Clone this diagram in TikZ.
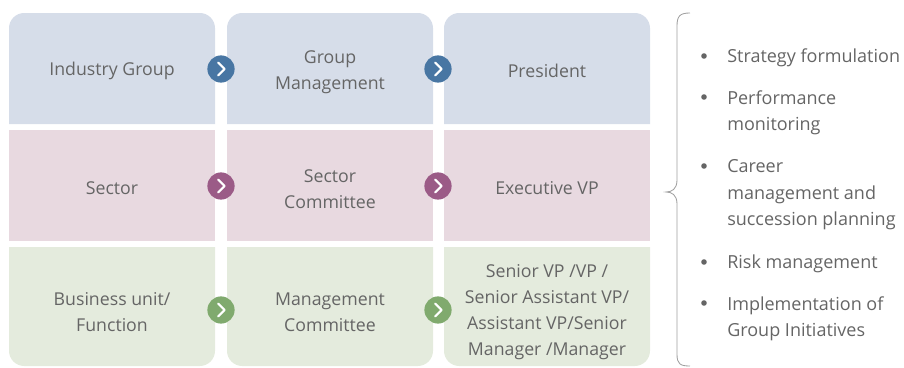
\documentclass[tikz,border=0pt]{standalone}
\usepackage{fontspec}
\setmainfont{Open Sans}
\usepackage{tikz}
\usetikzlibrary{positioning}

\definecolor{txtgrey}{HTML}{656565}
\definecolor{rowblue}{HTML}{D6DDE9}
\definecolor{rowplum}{HTML}{E8D9E0}
\definecolor{rowsage}{HTML}{E4EBDD}
\definecolor{dotblue}{HTML}{4876A3}
\definecolor{dotplum}{HTML}{9B5B87}
\definecolor{dotsage}{HTML}{80AA6E}
\definecolor{bracegrey}{HTML}{A0A0A0}

\begin{document}
\begin{tikzpicture}[x=0.025cm,y=-0.025cm]
	\tikzstyle{celltext}=[align=center, text=txtgrey, font=\fontsize{12.6}{18.5}\selectfont]
	\tikzstyle{itemtext}=[align=left, anchor=west, text=txtgrey, inner sep=0pt, font=\fontsize{12.8}{19}\selectfont]
	\tikzstyle{stepdot}=[circle, inner sep=0pt, minimum size=0.68cm]
	\tikzstyle{chev}=[white, line width=1.5pt, line cap=round, line join=round]
	\useasboundingbox (0,0) rectangle (904,368);

	% cells
	\foreach \xa/\xb in {9/215, 227/433, 444/650} {
		\fill[rowblue] (\xa,124) [rounded corners=0.38cm] -- (\xa,13) -- (\xb,13) [sharp corners] -- (\xb,124) -- cycle;
		\fill[rowplum] (\xa,130) rectangle (\xb,241);
		\fill[rowsage] (\xa,247) [rounded corners=0.38cm] -- (\xa,366) -- (\xb,366) [sharp corners] -- (\xb,247) -- cycle;
	}

	\node[celltext] (ig) at (112,71) {Industry Group};
	\node[celltext] (gm) at (330,72) {Group\\Management};
	\node[celltext] (pres) at (547,71) {President};
	\node[celltext] (sec) at (112,188) {Sector};
	\node[celltext] (scom) at (330,189) {Sector\\Committee};
	\node[celltext] (evp) at (547,188) {Executive VP};
	\node[celltext] (bu) at (112,312) {Business unit/\\Function};
	\node[celltext] (mcom) at (330,312) {Management\\Committee};
	\node[celltext] (svp) at (547,312) {Senior VP /VP /\\Senior Assistant VP/\\Assistant VP/Senior\\Manager /Manager};

	% step markers
	\foreach \nm/\cx/\cy/\col in {a1/221/69/dotblue, a2/438/69/dotblue, b1/221/186/dotplum, b2/438/186/dotplum, c1/221/310/dotsage, c2/438/310/dotsage} {
		\node[stepdot, fill=\col] (\nm) at (\cx,\cy) {};
		\draw[chev] ([xshift=-0.07cm,yshift=0.16cm]\nm.center) -- ([xshift=0.09cm]\nm.center) -- ([xshift=-0.07cm,yshift=-0.16cm]\nm.center);
	}

	% brace
	\coordinate (tip) at (666,192);
	\draw[bracegrey, line width=0.6pt] (690,13) .. controls (680,13) and (677,16) .. (677,26) -- (677,180) .. controls (677,189) and (672,192) .. (tip)
		.. controls (672,192) and (677,195) .. (677,204) -- (677,354) .. controls (677,364) and (680,366) .. (690,366);

	% responsibilities
	\foreach \nm/\yy in {item1/56, item2/97, item3/166, item4/262, item5/303}
		\fill[txtgrey] (704,\yy) circle (2.8);
	\node[itemtext] (item1) at (727,58) {Strategy formulation};
	\node[itemtext, anchor=north west] (item2) at (727,90) {Performance\\monitoring};
	\node[itemtext, anchor=north west] (item3) at (727,159) {Career\\management and\\succession planning};
	\node[itemtext] (item4) at (727,264) {Risk management};
	\node[itemtext, anchor=north west] (item5) at (727,296) {Implementation of\\Group Initiatives};
\end{tikzpicture}
\end{document}
